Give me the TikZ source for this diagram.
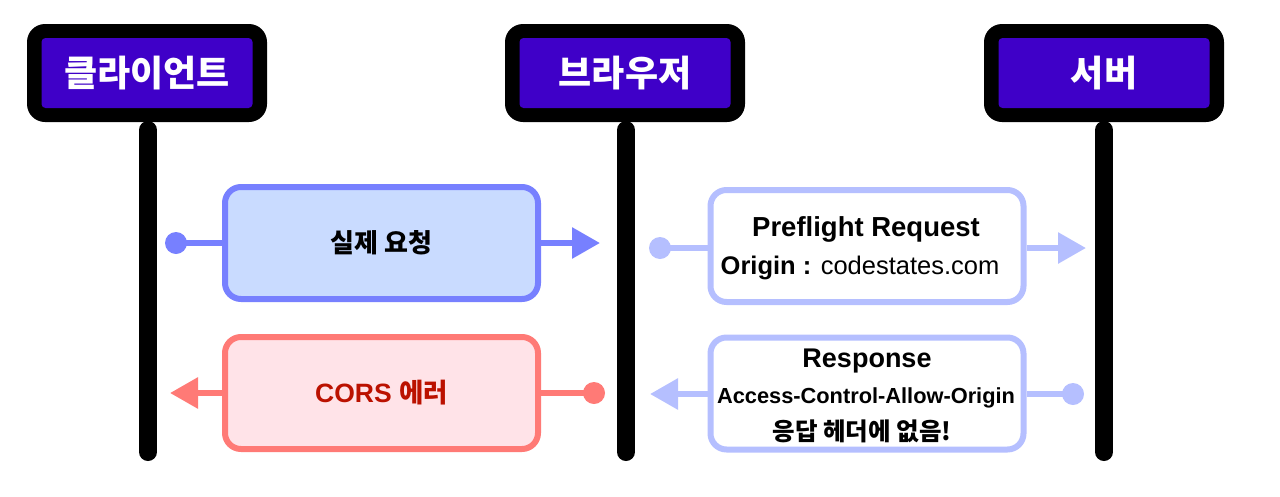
\documentclass[tikz,border=0pt]{standalone}
\usepackage{fontspec}
\setmainfont{Liberation Sans}
\newfontfamily\kr{Noto Sans CJK KR}
\usetikzlibrary{arrows.meta}
\definecolor{hpurple}{HTML}{3F00C8}
\definecolor{bstroke}{HTML}{7780FF}
\definecolor{bfill}{HTML}{C9DBFF}
\definecolor{lstroke}{HTML}{B5BFFF}
\definecolor{rstroke}{HTML}{FF7A76}
\definecolor{rfill}{HTML}{FFE3E8}
\definecolor{rtext}{HTML}{BB1100}
\tikzset{
  x=1pt,y=-1pt,
  hdrouter/.style={fill=black,rounded corners=18pt,minimum width=240pt,minimum height=98pt,inner sep=0pt},
  hdrinner/.style={fill=hpurple,rounded corners=4pt,minimum width=211pt,minimum height=70pt,inner sep=0pt,text=white,font=\kr\bfseries\fontsize{36}{40}\selectfont},
  life/.style={line width=18pt,line cap=round},
  msgbox/.style={rounded corners=16pt,line width=6pt,minimum width=313pt,minimum height=112pt,inner sep=0pt,align=center},
  lbl/.style={inner sep=0pt,anchor=center},
  dotn/.style={circle,inner sep=0pt,minimum size=22pt},
  conn/.style={line width=6pt},
  tip/.style={-{Triangle[length=28pt,width=30pt]}},
}
\begin{document}
\begin{tikzpicture}
\useasboundingbox (0,0) rectangle (1280,496);
% lifelines
\coordinate (c1) at (148,130); \coordinate (c2) at (148,452);
\coordinate (b1) at (626,130); \coordinate (b2) at (626,452);
\coordinate (s1) at (1104,130); \coordinate (s2) at (1104,452);
\draw[life] (c1) -- (c2);
\draw[life] (b1) -- (b2);
\draw[life] (s1) -- (s2);
% headers
\node[hdrouter] (ho1) at (147,73) {};
\node[hdrinner] (hc) at (147,73) {클라이언트};
\node[hdrouter] (ho2) at (625,73) {};
\node[hdrinner] (hb) at (625,73) {브라우저};
\node[hdrouter] (ho3) at (1104,73) {};
\node[hdrinner] (hs) at (1104,73) {서버};
% box 1
\node[msgbox,draw=bstroke,fill=bfill,font=\kr\bfseries\fontsize{26}{30}\selectfont] (m1) at (381.5,243) {실제 요청};
\node[dotn,fill=bstroke] (d1) at (176,243) {};
\coordinate (e1) at (600,243);
\draw[conn,bstroke] (d1.center) -- (m1.west);
\draw[conn,bstroke,tip] (m1.east) -- (e1);
% box 2
\node[msgbox,draw=lstroke,fill=white] (m2) at (867,246) {};
\node[lbl,font=\bfseries\fontsize{27.5}{30}\selectfont] (t2a) at (866,229) {Preflight Request};
\node[lbl,font=\fontsize{25.5}{30}\selectfont] (t2b) at (860,268) {\bfseries Origin :\mdseries{} codestates.com};
\node[dotn,fill=lstroke] (d2) at (660,248) {};
\coordinate (e2) at (1086,248);
\draw[conn,lstroke] (d2.center) -- (d2.center -| m2.west);
\draw[conn,lstroke,tip] (e2 -| m2.east) -- (e2);
% box 3
\node[msgbox,draw=rstroke,fill=rfill,text=rtext,font=\bfseries\fontsize{26.5}{30}\selectfont] (m3) at (381.5,393) {CORS {\kr\bfseries 에러}};
\node[dotn,fill=rstroke] (d3) at (594,393) {};
\coordinate (e3) at (170,393);
\draw[conn,rstroke] (d3.center) -- (m3.east);
\draw[conn,rstroke,tip] (m3.west) -- (e3);
% box 4
\node[msgbox,draw=lstroke,fill=white] (m4) at (867,393.5) {};
\node[lbl,font=\bfseries\fontsize{27}{30}\selectfont] (t4a) at (867,361) {Response};
\node[lbl,font=\bfseries\fontsize{21.8}{26}\selectfont] (t4b) at (866,398) {Access-Control-Allow-Origin};
\node[lbl,font=\kr\bfseries\fontsize{24.5}{28}\selectfont] (t4c) at (862,431) {응답 헤더에 없음!};
\node[dotn,fill=lstroke] (d4) at (1073,394) {};
\coordinate (e4) at (650,394);
\draw[conn,lstroke] (d4.center) -- (d4.center -| m4.east);
\draw[conn,lstroke,tip] (e4 -| m4.west) -- (e4);
\end{tikzpicture}
\end{document}
